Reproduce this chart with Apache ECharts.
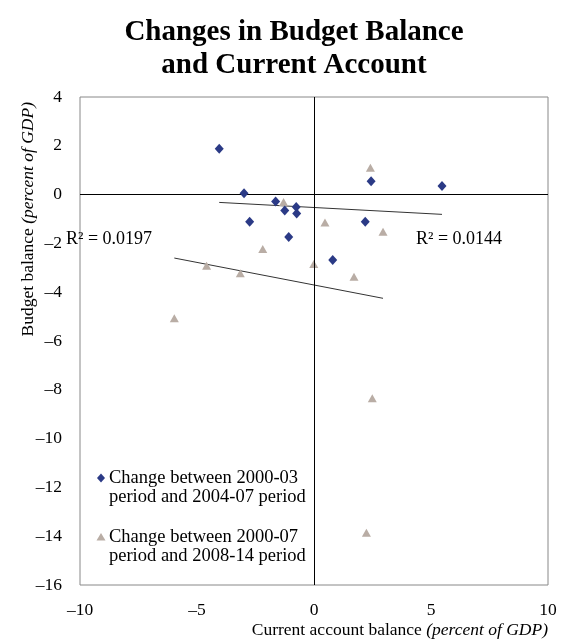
<!DOCTYPE html>
<html><head><meta charset="utf-8">
<script src="https://cdn.jsdelivr.net/npm/echarts@6/dist/echarts.min.js"></script>
<style>html,body{margin:0;padding:0;background:#fff}#c{width:563px;height:644px}</style>
</head><body><div id="c"></div>
<script>
var xTicks = [-10, -5, 0, 5, 10];
var yTicks = [4, 2, 0, -2, -4, -6, -8, -10, -12, -14, -16];
var seriesNames = ['Change between 2000-03\nperiod and 2004-07 period', 'Change between 2000-07\nperiod and 2008-14 period'];
var period1 = [[-4.05,1.88],[-2.99,0.06],[-1.64,-0.28],[-1.25,-0.65],[-0.76,-0.51],[-0.74,-0.77],[-2.75,-1.11],[-1.08,-1.74],[2.44,0.55],[5.47,0.35],[2.19,-1.11],[0.80,-2.68]];
var period2 = [[-1.30,-0.30],[-2.19,-2.23],[-4.59,-2.92],[-3.15,-3.22],[-5.97,-5.07],[2.41,1.10],[0.47,-1.14],[2.95,-1.52],[-0.01,-2.84],[1.71,-3.37],[2.49,-8.35],[2.24,-13.86]];
var trend1 = [[-4.05,-0.32],[5.47,-0.81]];
var trend2 = [[-5.97,-2.60],[2.95,-4.25]];
var r2Labels = ['R² = 0.0197', 'R² = 0.0144'];

var serif = '"Liberation Serif","Times New Roman",serif';
function fmt(v){return v<0?'\u2013'+(-v):''+v;}
var chart = echarts.init(document.getElementById('c'), null, {renderer:'canvas'});
chart.setOption({
  animation:false,
  grid:{left:80, right:15, top:97, bottom:59, show:true, borderColor:'#888', borderWidth:1},
  xAxis:{type:'value', min:-10, max:10, interval:5, axisLine:{show:false}, axisTick:{show:false}, splitLine:{show:false},
    axisLabel:{fontFamily:serif, fontSize:17.5, color:'#000', margin:16, formatter:fmt}},
  yAxis:{type:'value', min:-16, max:4, interval:2, axisLine:{show:false}, axisTick:{show:false}, splitLine:{show:false},
    axisLabel:{fontFamily:serif, fontSize:17.5, color:'#000', margin:18, formatter:fmt}},
  legend:{show:false},
  graphic:[
    {type:'text', x:294, y:16, style:{text:'Changes in Budget Balance\nand Current Account', font:'bold 29px '+serif, lineHeight:33, fill:'#000', align:'center'}},
    {type:'text', left:66, top:230, z:0, style:{text:r2Labels[0], font:'18px '+serif, fill:'#000'}},
    {type:'text', left:416, top:230, style:{text:r2Labels[1], font:'18px '+serif, fill:'#000'}},
    {type:'text', x:19, y:102, rotation:Math.PI/2, style:{rich:{n:{font:'17.5px '+serif, fill:'#000'}, i:{font:'italic 17.5px '+serif, fill:'#000'}}, text:'{n|Budget balance }{i|(percent of GDP)}', align:'right', verticalAlign:'top'}},
    {type:'text', right:15, top:621, style:{rich:{n:{font:'17.5px '+serif, fill:'#000'}, i:{font:'italic 17.5px '+serif, fill:'#000'}}, text:'{n|Current account balance }{i|(percent of GDP)}'}},
    {type:'text', x:109, y:468, style:{text:seriesNames[0], font:'18.5px '+serif, lineHeight:19.5, fill:'#000'}},
    {type:'text', x:109, y:527, style:{text:seriesNames[1], font:'18.5px '+serif, lineHeight:19.5, fill:'#000'}},
    {type:'polygon', shape:{points:[[0,-4.5],[4,0],[0,4.5],[-4,0]]}, x:101, y:478, style:{fill:'#2b3a86'}},
    {type:'polygon', shape:{points:[[0,-4],[4.5,3.5],[-4.5,3.5]]}, x:101, y:537, style:{fill:'#b9ada5'}}
  ],
  series:[
    {name:seriesNames[0], type:'scatter', symbol:'diamond', symbolSize:[9,10], itemStyle:{color:'#2b3a86', opacity:1}, data:period1, z:5,
      markLine:{silent:true, symbol:'none', label:{show:false}, lineStyle:{color:'#000', width:1, type:'solid'},
        data:[{xAxis:0},{yAxis:0}]}},
    {name:seriesNames[1], type:'scatter', symbol:'triangle', symbolSize:[9,8], itemStyle:{color:'#b9ada5', opacity:1}, data:period2, z:4},
    {name:'t1', type:'line', data:trend1, symbol:'none', lineStyle:{color:'#333', width:1}, z:3},
    {name:'t2', type:'line', data:trend2, symbol:'none', lineStyle:{color:'#333', width:1}, z:3}
  ]
});
</script></body></html>
